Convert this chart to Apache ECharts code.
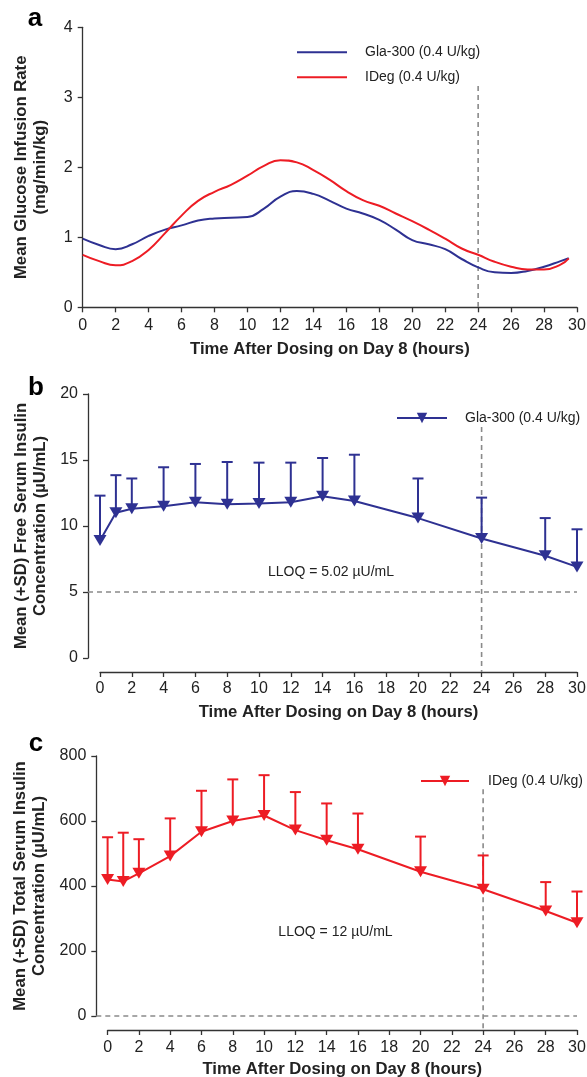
<!DOCTYPE html>
<html>
<head>
<meta charset="utf-8">
<script src="https://cdn.jsdelivr.net/npm/echarts@6.0.0/dist/echarts.min.js"></script>
<style>
  html, body { margin: 0; padding: 0; background: #fff; }
  #chart { width: 587px; height: 1077px; }
</style>
</head>
<body>
<div id="chart"></div>
<script>
// ---- data ----
const girHours = [0, 1, 2, 3, 4, 5, 6, 7, 8, 9, 10, 11, 12, 13, 14, 15, 16, 17, 18, 19, 20, 21, 22, 23, 24, 25, 26, 27, 28, 29, 29.5];
const girGla = [0.98, 0.89, 0.83, 0.90, 1.02, 1.11, 1.17, 1.24, 1.27, 1.28, 1.29, 1.41, 1.58, 1.66, 1.62, 1.52, 1.41, 1.34, 1.25, 1.11, 0.96, 0.90, 0.83, 0.69, 0.57, 0.50, 0.49, 0.52, 0.58, 0.66, 0.70];
const girIdeg = [0.75, 0.66, 0.60, 0.66, 0.82, 1.06, 1.31, 1.52, 1.65, 1.75, 1.88, 2.02, 2.10, 2.07, 1.96, 1.82, 1.66, 1.53, 1.45, 1.34, 1.23, 1.11, 0.98, 0.84, 0.75, 0.65, 0.58, 0.54, 0.54, 0.61, 0.70];

const pkHours = [0, 1, 2, 4, 6, 8, 10, 12, 14, 16, 20, 24, 28, 30];
const freeGlaMean = [8.9, 11.0, 11.3, 11.5, 11.8, 11.65, 11.7, 11.8, 12.25, 11.9, 10.6, 9.05, 7.75, 6.9];
const freeGlaSdTop = [12.3, 13.85, 13.6, 14.45, 14.7, 14.85, 14.8, 14.8, 15.15, 15.4, 13.6, 12.15, 10.6, 9.75];
const totIdegMean = [420, 414, 439, 492, 567, 600, 617, 572, 541, 513, 444, 390, 323, 287];
const totIdegSdTop = [550, 564, 544, 608, 693, 728, 741, 689, 654, 623, 552, 494, 412, 383];

const seriesLabels = ['Gla-300 (0.4 U/kg)', 'IDeg (0.4 U/kg)'];
const xTitle = 'Time After Dosing on Day 8 (hours)';
const yTitles = [
  'Mean Glucose Infusion Rate\n(mg/min/kg)',
  'Mean (+SD) Free Serum Insulin\nConcentration (µU/mL)',
  'Mean (+SD) Total Serum Insulin\nConcentration (µU/mL)'
];
const lloqFree = 5;      // LLOQ = 5.02
const lloqTotal = 0;     // drawn on the zero line
const dayMark = 24;      // dashed vertical line
const dayMarkTop = [3.16, 17.5, 698];

const BLUE = '#2e3192';
const RED = '#ed1c24';
const FONT = '"Liberation Sans", Arial, Helvetica, sans-serif';
const AXIS = '#333';

const chart = echarts.init(document.getElementById('chart'));

const names = { gir1: seriesLabels[0], gir2: seriesLabels[1], free: seriesLabels[0], total: seriesLabels[1] };

function xAxisFor(gi, offset, nameGap, margin) {
  return {
    type: 'value', gridIndex: gi, min: 0, max: 30, interval: 2, offset: offset,
    name: xTitle, nameLocation: 'middle', nameGap: nameGap, nameMoveOverlap: false,
    nameTextStyle: { fontFamily: FONT, fontSize: 16.7, fontWeight: 'bold', color: '#222' },
    axisLine: { show: true, onZero: false, lineStyle: { color: AXIS, width: 1.3 } },
    axisTick: { show: true, length: 5, lineStyle: { color: AXIS, width: 1.3 } },
    axisLabel: { margin: margin, fontFamily: FONT, fontSize: 16, color: '#222' },
    splitLine: { show: false }
  };
}

function yAxisFor(gi, max, interval, offset, nameGap) {
  return {
    type: 'value', gridIndex: gi, min: 0, max: max, interval: interval, offset: offset,
    name: yTitles[gi], nameLocation: 'middle', nameRotate: 90, nameGap: nameGap, nameMoveOverlap: false,
    nameTextStyle: { fontFamily: FONT, fontSize: 16.7, fontWeight: 'bold', color: '#222', lineHeight: 19, align: 'center' },
    axisLine: { show: true, onZero: false, lineStyle: { color: AXIS, width: 1.3 } },
    axisTick: { show: true, length: 5, lineStyle: { color: AXIS, width: 1.3 } },
    axisLabel: { margin: 10, fontFamily: FONT, fontSize: 16, color: '#222' },
    splitLine: { show: false }
  };
}

// error bars: stem from mean to mean+SD with a cap
function errorBars(gi, times, means, tops, color) {
  return {
    type: 'custom', xAxisIndex: gi, yAxisIndex: gi, silent: true, z: 2,
    data: times.map((t, i) => [t, means[i], tops[i]]),
    renderItem: function (params, api) {
      const base = api.coord([api.value(0), api.value(1)]);
      const top = api.coord([api.value(0), api.value(2)]);
      const half = 5.5;
      return {
        type: 'group',
        children: [
          { type: 'line', shape: { x1: base[0], y1: base[1], x2: top[0], y2: top[1] }, style: { stroke: color, lineWidth: 2 } },
          { type: 'line', shape: { x1: top[0] - half, y1: top[1], x2: top[0] + half, y2: top[1] }, style: { stroke: color, lineWidth: 2 } }
        ]
      };
    }
  };
}

// dashed reference lines: vertical one at 24 h (down to the axis line), optional horizontal LLOQ
function refLines(gi, top, xOffset, lloq, yOffset) {
  return {
    type: 'custom', xAxisIndex: gi, yAxisIndex: gi, silent: true, z: 1,
    data: [[dayMark, top, lloq == null ? NaN : lloq]],
    renderItem: function (params, api) {
      const cs = params.coordSys;
      const p = api.coord([api.value(0), api.value(1)]);
      const dash = { stroke: '#8a8a8a', lineWidth: 1.6, lineDash: [5, 4] };
      const kids = [
        { type: 'line', shape: { x1: p[0], y1: p[1], x2: p[0], y2: cs.y + cs.height + xOffset }, style: dash }
      ];
      const lv = api.value(2);
      if (!isNaN(lv)) {
        const ly = api.coord([0, lv])[1];
        kids.push({ type: 'line', shape: { x1: cs.x - yOffset, y1: ly, x2: cs.x + cs.width, y2: ly }, style: dash });
      }
      return { type: 'group', children: kids };
    }
  };
}

const triangle = 'path://M0,0L12,0L6,10Z';

const option = {
  backgroundColor: '#fff',
  animation: false,
  grid: [
    { left: 82.7, top: 27.3, width: 494.3, height: 280, outerBoundsMode: 'none', containLabel: false },
    { left: 100, top: 394, width: 477, height: 264, outerBoundsMode: 'none', containLabel: false },
    { left: 107.6, top: 756, width: 469.4, height: 260, outerBoundsMode: 'none', containLabel: false }
  ],
  xAxis: [
    xAxisFor(0, 0, 33.6, 10),
    xAxisFor(1, 14, 31.6, 9),
    xAxisFor(2, 14, 30.6, 9.5)
  ],
  yAxis: [
    yAxisFor(0, 4, 1, 0, 33),
    yAxisFor(1, 20, 5, 12, 38.5),
    yAxisFor(2, 800, 200, 11.3, 47)
  ],
  legend: [
    {
      data: ['gir1', 'gir2'], orient: 'vertical', left: 296, top: 45.3, padding: 0,
      itemWidth: 50, itemHeight: 14, itemGap: 11, selectedMode: false,
      itemStyle: { opacity: 0 },
      formatter: n => names[n],
      textStyle: { fontFamily: FONT, fontSize: 14, color: '#222', padding: [0, 0, 0, 13] }
    },
    {
      data: ['free'], left: 396, top: 411, padding: 0,
      itemWidth: 50, itemHeight: 13, selectedMode: false,
      formatter: n => names[n],
      textStyle: { fontFamily: FONT, fontSize: 14, color: '#222', padding: [0, 0, 0, 13] }
    },
    {
      data: ['total'], left: 420, top: 774, padding: 0,
      itemWidth: 48, itemHeight: 13, selectedMode: false,
      formatter: n => names[n],
      textStyle: { fontFamily: FONT, fontSize: 14, color: '#222', padding: [0, 0, 0, 14] }
    }
  ],
  series: [
    refLines(0, dayMarkTop[0], 0, null, 0),
    refLines(1, dayMarkTop[1], 14, lloqFree, 12),
    refLines(2, dayMarkTop[2], 14, lloqTotal, 11.3),
    {
      name: 'gir1', type: 'line', xAxisIndex: 0, yAxisIndex: 0, smooth: 0.5, symbol: 'none', z: 3,
      data: girHours.map((t, i) => [t, girGla[i]]),
      lineStyle: { color: BLUE, width: 2 }, itemStyle: { color: BLUE }
    },
    {
      name: 'gir2', type: 'line', xAxisIndex: 0, yAxisIndex: 0, smooth: 0.5, symbol: 'none', z: 3,
      data: girHours.map((t, i) => [t, girIdeg[i]]),
      lineStyle: { color: RED, width: 2 }, itemStyle: { color: RED }
    },
    errorBars(1, pkHours, freeGlaMean, freeGlaSdTop, BLUE),
    {
      name: 'free', type: 'line', xAxisIndex: 1, yAxisIndex: 1, z: 3,
      symbol: triangle, symbolSize: [13, 11],
      data: pkHours.map((t, i) => [t, freeGlaMean[i]]),
      lineStyle: { color: BLUE, width: 2 }, itemStyle: { color: BLUE }
    },
    errorBars(2, pkHours, totIdegMean, totIdegSdTop, RED),
    {
      name: 'total', type: 'line', xAxisIndex: 2, yAxisIndex: 2, z: 3,
      symbol: triangle, symbolSize: [13, 11],
      data: pkHours.map((t, i) => [t, totIdegMean[i]]),
      lineStyle: { color: RED, width: 2 }, itemStyle: { color: RED }
    }
  ],
  graphic: [
    { type: 'text', x: 35, y: 19, style: { text: 'a', font: 'bold 26px ' + FONT, fill: '#000', align: 'center', verticalAlign: 'middle' } },
    { type: 'text', x: 36, y: 388, style: { text: 'b', font: 'bold 26px ' + FONT, fill: '#000', align: 'center', verticalAlign: 'middle' } },
    { type: 'text', x: 36, y: 744, style: { text: 'c', font: 'bold 26px ' + FONT, fill: '#000', align: 'center', verticalAlign: 'middle' } },
    { type: 'text', x: 331, y: 572, style: { text: 'LLOQ = 5.02 µU/mL', font: '14px ' + FONT, fill: '#222', align: 'center', verticalAlign: 'middle' } },
    { type: 'text', x: 335.5, y: 932, style: { text: 'LLOQ = 12 µU/mL', font: '14px ' + FONT, fill: '#222', align: 'center', verticalAlign: 'middle' } }
  ]
};

chart.setOption(option);
</script>
</body>
</html>
